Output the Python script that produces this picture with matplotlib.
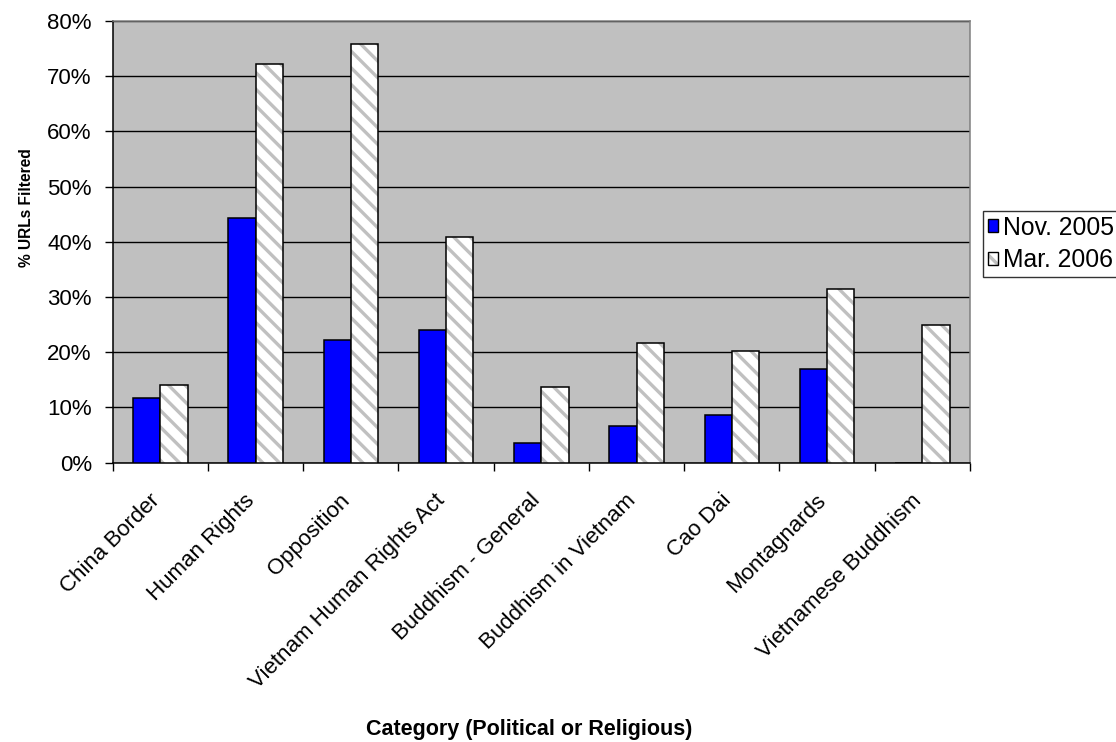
import matplotlib
matplotlib.use("Agg")
import matplotlib.pyplot as plt
import numpy as np
from matplotlib.patches import Patch
from matplotlib.legend_handler import HandlerTuple
from matplotlib.transforms import ScaledTranslation

categories = ["China Border", "Human Rights", "Opposition", "Vietnam Human Rights Act",
              "Buddhism - General", "Buddhism in Vietnam", "Cao Dai", "Montagnards",
              "Vietnamese Buddhism"]
nov_2005 = [11.7, 44.4, 22.2, 24.0, 3.5, 6.7, 8.6, 17.0, 0.0]
mar_2006 = [14.1, 72.2, 75.8, 40.9, 13.8, 21.7, 20.2, 31.5, 24.9]
series_labels = ["Nov. 2005", "Mar. 2006"]
y_ticks = [0, 10, 20, 30, 40, 50, 60, 70, 80]

plt.rcParams["font.family"] = ["Liberation Sans", "DejaVu Sans"]
plt.rcParams["hatch.linewidth"] = 2.4

W, H, DPI = 1116, 742, 100
fig = plt.figure(figsize=(W / DPI, H / DPI), dpi=DPI)
fig.patch.set_facecolor("white")
ax = fig.add_axes([112.7 / W, 1 - 462.7 / H, (970 - 112.7) / W, (462.7 - 21) / H])
ax.set_facecolor("#C0C0C0")

x = np.arange(len(categories))
bw = 0.2865
edge_lw = 1.1
tick_fs = 16
hatch_grey = "#C0C0C0"

ax.bar(x - bw / 2, nov_2005, bw, color="#0000FF", edgecolor="black", linewidth=edge_lw, zorder=3)
# hatched fill first, then a plain black outline on top
ax.bar(x + bw / 2, mar_2006, bw, color="white", edgecolor=hatch_grey, hatch="\\\\",
       linewidth=0, zorder=3)
ax.bar(x + bw / 2, mar_2006, bw, fill=False, edgecolor="black", linewidth=edge_lw, zorder=4)

ax.set_xlim(-0.5, len(categories) - 0.5)
ax.set_ylim(0, 80)
ax.set_yticks(y_ticks)
ax.set_yticklabels([f"{v}%" for v in y_ticks])
ax.yaxis.grid(True, color="black", linewidth=1.0)
ax.set_axisbelow(True)

ax.set_xticks(np.arange(-0.5, len(categories), 1.0))
ax.set_xticklabels([])
ax.set_xticks(x, minor=True)
ax.set_xticklabels(categories, minor=True, rotation=45, ha="right", va="center",
                   rotation_mode="anchor")
ax.tick_params(axis="x", which="minor", length=0, labelsize=tick_fs, pad=25)
ax.tick_params(axis="x", which="major", length=6, width=1.0, color="black", direction="out")
ax.tick_params(axis="y", length=6, width=1.0, labelsize=tick_fs, pad=9, direction="out")
for lbl in ax.get_xticklabels(minor=True):
    lbl.set_transform(lbl.get_transform() + ScaledTranslation(-4 / DPI, 0, fig.dpi_scale_trans))

for side in ("left", "bottom"):
    ax.spines[side].set_color("black")
    ax.spines[side].set_linewidth(1.1)
for side in ("top", "right"):
    ax.spines[side].set_color("#808080")
    ax.spines[side].set_linewidth(1.1)

fig.text(27 / W, 1 - 208 / H, "% URLs Filtered", rotation=90, ha="center", va="center",
         fontsize=11.2, fontweight="bold")
fig.text(529 / W, 1 - 735 / H, "Category (Political or Religious)", ha="center", va="baseline",
         fontsize=15.5, fontweight="bold")

nov_handle = Patch(facecolor="#0000FF", edgecolor="black", linewidth=1.0)
mar_handle = (Patch(facecolor="white", edgecolor=hatch_grey, hatch="\\\\", linewidth=0),
              Patch(fill=False, edgecolor="black", linewidth=1.0))
leg = fig.legend([nov_handle, mar_handle], series_labels, loc="upper left",
                 bbox_to_anchor=(982.7 / W, 1 - 210.5 / H), bbox_transform=fig.transFigure,
                 borderaxespad=0, fontsize=17.8, frameon=True, fancybox=False,
                 handlelength=0.42, handleheight=0.42, handletextpad=0.18,
                 labelspacing=0.34, borderpad=0.21,
                 handler_map={tuple: HandlerTuple(ndivide=1, pad=0)})
leg.get_frame().set_edgecolor("black")
leg.get_frame().set_linewidth(1.0)

fig.savefig("out.png", dpi=DPI)
